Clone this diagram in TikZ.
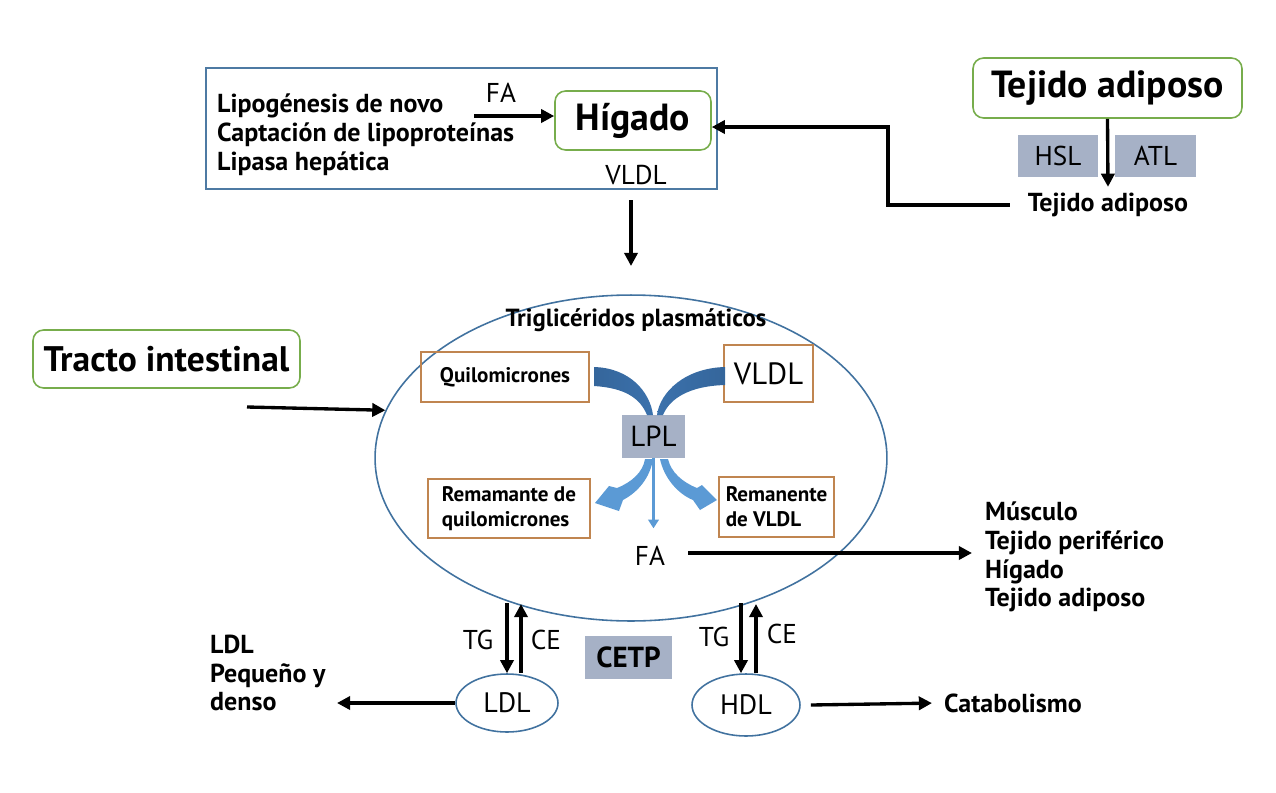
\documentclass[tikz,border=0pt]{standalone}
\usepackage{fontspec}
\setmainfont{PT Sans}
\usetikzlibrary{arrows.meta, shapes.geometric}
\definecolor{boxblue}{HTML}{4E7AA3}
\definecolor{ringblue}{HTML}{41729F}
\definecolor{leafgreen}{HTML}{77AD4C}
\definecolor{boxorange}{HTML}{C08550}
\definecolor{enzgrey}{HTML}{A6B1C6}
\definecolor{flowdark}{HTML}{3B71AC}
\definecolor{flowlight}{HTML}{5B9AD5}

\begin{document}
\begin{tikzpicture}[x=0.02cm, y=-0.02cm, >={Triangle[length=7.5pt,width=7.5pt]},
  arr/.style={->, line width=1.9pt},
  organ/.style={draw=leafgreen, line width=0.9pt, rounded corners=6pt, inner sep=0pt, font=\bfseries\fontsize{21.5}{24}\selectfont},
  lipo/.style={draw=boxorange, line width=0.9pt, inner sep=0pt, align=left, font=\bfseries\fontsize{12}{14.2}\selectfont},
  enz/.style={fill=enzgrey, inner sep=0pt, font=\fontsize{15.5}{18}\selectfont},
  lab/.style={font=\fontsize{15.5}{18}\selectfont},
  blab/.style={align=left, font=\bfseries\fontsize{14.8}{16.4}\selectfont},
  lipring/.style={ellipse, draw=ringblue, line width=0.9pt, inner sep=0pt, font=\fontsize{16}{18}\selectfont}]
  \useasboundingbox (0,0) rectangle (1276,792);

  % liver
  \node[draw=boxblue, line width=0.8pt, minimum width=10.22cm, minimum height=2.42cm] (liverbox) at (461.5,128.5) {};
  \node[blab, anchor=west] (sources) at (211,135) {Lipogénesis de novo\\Captación de lipoproteínas\\Lipasa hepática};
  \node[organ, minimum width=3.12cm, minimum height=1.18cm] (higado) at (633,120.5) {Hígado};
  \node[lab] (fa1) at (501,93) {FA};
  \node[lab] (vldl1) at (636,175) {VLDL};
  \coordinate (faTail) at (474,116);
  \draw[arr] (faTail) -- (faTail -| higado.west);
  \coordinate (vTop) at (631,200);
  \coordinate (vEnd) at (631,266);
  \draw[arr] (vTop) -- (vEnd);

  % adipose tissue
  \node[organ, minimum width=5.38cm, minimum height=1.2cm] (tejido) at (1107.5,88) {Tejido adiposo};
  \node[enz, minimum width=1.6cm, minimum height=0.84cm] (hsl) at (1058,156) {HSL};
  \node[enz, minimum width=1.62cm, minimum height=0.84cm] (atl) at (1155.5,156) {ATL};
  \node[blab] (tejtxt) at (1108,205) {Tejido adiposo};
  \draw[arr] (tejido.south) -- (tejtxt.north);
  \coordinate (elbow) at (888,205);
  \draw[arr] ([xshift=-0.24cm]tejtxt.west) -- (elbow) |- ([yshift=-0.13cm]higado.east);

  % plasma
  \node[ellipse, draw=ringblue, line width=0.9pt, inner sep=0pt, minimum width=10.24cm, minimum height=6.52cm] (plasma) at (631,458) {};
  \node[blab, font=\bfseries\fontsize{14.1}{16}\selectfont] (tgp) at (636,320) {Triglicéridos plasmáticos};
  \node[lipo, minimum width=3.36cm, minimum height=1cm] (quilo) at (505,377) {Quilomicrones};
  \node[lipo, minimum width=1.78cm, minimum height=1.14cm, font=\fontsize{17.5}{20}\selectfont] (vldl2) at (768.5,373.5) {VLDL};
  \node[enz, minimum width=1.26cm, minimum height=0.86cm, font=\fontsize{16.5}{18}\selectfont] (lpl) at (653.5,436.5) {LPL};
  \node[lipo, minimum width=3.24cm, minimum height=1.18cm] (remq) at (509,508.5) {Remamante de\\quilomicrones};
  \node[lipo, minimum width=2.3cm, minimum height=1.2cm] (remv) at (776.5,507) {Remanente\\de VLDL};

  % LPL flows
  \shade[left color=flowdark!90!black, right color=flowdark] (594,367) .. controls (630,368) and (650,392) .. (653,415)
    -- (647,415) .. controls (640,398) and (625,388) .. (594,386) -- cycle;
  \shade[right color=flowdark!90!black, left color=flowdark] (725,367) .. controls (685,368) and (660,392) .. (657,415)
    -- (663,415) .. controls (670,398) and (690,386) .. (725,385) -- cycle;
  \fill[flowlight] (645,459) .. controls (643,472) and (632,482) .. (617,488) -- (609,486) -- (595,503) -- (619,511)
    -- (623,500) .. controls (638,492) and (650,478) .. (653,459) -- cycle;
  \fill[flowlight] (668,459) .. controls (671,472) and (682,482) .. (697,488) -- (702,485) -- (717,500) -- (700,510)
    -- (693,500) .. controls (678,494) and (664,478) .. (660,459) -- cycle;
  \draw[flowlight, line width=2pt, -{Triangle[length=5pt,width=6pt]}] (lpl.south) -- ++(0,70);

  \node[lab] (fa2) at (650,556) {FA};
  \coordinate (faOut) at (688,553);
  \node[blab, anchor=west] (targets) at (979,557) {Músculo\\Tejido periférico\\Hígado\\Tejido adiposo};
  \draw[arr, shorten >=0.14cm] (faOut) -- (faOut -| targets.west);

  % intestine
  \node[organ, minimum width=5.34cm, minimum height=1.16cm, font=\bfseries\fontsize{20.2}{24}\selectfont] (tracto) at (166.5,359) {Tracto intestinal};
  \coordinate (trTail) at (247,407);
  \draw[arr] (trTail) -- (plasma.169);

  % LDL and HDL
  \node[lipring, minimum width=2.04cm, minimum height=1.16cm] (ldl) at (507,703) {LDL};
  \node[lipring, minimum width=2.16cm, minimum height=1.24cm] (hdl) at (746,705) {HDL};
  \coordinate (tgL) at (507,603);
  \coordinate (ceL) at (521,604);
  \coordinate (tgH) at (741,603);
  \coordinate (ceH) at (756,604);
  \draw[arr] (tgL) -- (tgL |- ldl.north);
  \draw[arr] (ceL |- ldl.north) -- (ceL);
  \draw[arr] (tgH) -- (tgH |- hdl.north);
  \draw[arr] (ceH |- hdl.north) -- (ceH);
  \node[lab] (tgLdl) at (478,640) {TG};
  \node[lab] (ceLdl) at (546,640) {CE};
  \node[lab] (tgHdl) at (714,637) {TG};
  \node[lab] (ceHdl) at (782,634) {CE};
  \node[enz, minimum width=1.74cm, minimum height=0.86cm, font=\bfseries\fontsize{16.5}{18}\selectfont] (cetp) at (628.5,657.5) {CETP};

  \node[blab, anchor=west] (small) at (204,673) {LDL\\Pequeño y\\denso};
  \coordinate (smEnd) at (337,703);
  \draw[arr] (ldl.west) -- (smEnd);
  \node[blab, anchor=west] (catab) at (938,703) {Catabolismo};
  \draw[arr, shorten >=0.12cm] ([xshift=0.2cm]hdl.east) -- (catab.west);
\end{tikzpicture}
\end{document}
